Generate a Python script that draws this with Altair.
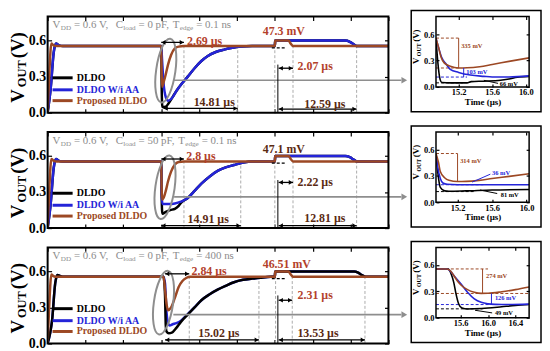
import altair as alt
import pandas as pd

FONT = "Liberation Serif"
BLACK = "#000000"
BLUE = "#2424d8"
BROWN = "#9c4824"
RED_TXT = "#b3412b"
DARK_TXT = "#5a2a12"
GRAY_TXT = "#8c8c8c"
GRAY_LINE = "#8e8e8e"
DASH_GRAY = "#ababab"

W, H = 344, 97
IW, IH = 94, 71
YDOM = [0, 0.8]
MAIN_DOM = [0, 45]
MAIN_TICKS = [0, 5, 10, 15, 20, 25, 30, 35, 40, 45]
Y_TICKS = [0, 0.3, 0.6]

# ---------------- data: panel 1 (C_load = 0 pF, T_edge = 0.1 ns) ----------------
P1_BLACK_T = [0, 0.4, 0.8, 1.1, 1.5, 2.0, 15.0, 15.06, 15.15, 15.6, 16.0, 16.5, 17.0, 17.7, 18.5, 19.4, 20.3, 21.1, 22.2, 23.3, 24.4, 25.5, 27.0, 30.0, 30.05, 39.3, 39.9, 40.4, 40.8, 45]
P1_BLACK_V = [0, 0.2, 0.5, 0.575, 0.56, 0.555, 0.555, 0.2, 0.046, 0.05, 0.08, 0.13, 0.18, 0.24, 0.3, 0.37, 0.43, 0.47, 0.505, 0.525, 0.54, 0.55, 0.555, 0.555, 0.6, 0.6, 0.59, 0.57, 0.555, 0.555]
P1_BLUE_T = [0, 0.4, 0.8, 1.1, 1.5, 2.0, 15.0, 15.1, 15.3, 15.6, 15.9, 16.4, 17.0, 17.7, 18.5, 19.4, 20.3, 21.1, 22.2, 23.3, 24.4, 25.5, 27.0, 30.0, 30.05, 39.3, 39.9, 40.4, 40.8, 45]
P1_BLUE_V = [0, 0.2, 0.5, 0.575, 0.56, 0.555, 0.555, 0.45, 0.25, 0.13, 0.1, 0.12, 0.18, 0.24, 0.3, 0.37, 0.43, 0.47, 0.505, 0.525, 0.54, 0.55, 0.555, 0.555, 0.6, 0.6, 0.59, 0.57, 0.555, 0.555]
P1_BROWN_T = [0, 0.2, 0.5, 0.8, 1.2, 15.0, 15.05, 15.12, 15.3, 15.6, 15.9, 16.3, 16.8, 17.3, 18.0, 30.0, 30.05, 31.8, 32.1, 32.4, 45]
P1_BROWN_V = [0, 0.3, 0.575, 0.56, 0.555, 0.555, 0.35, 0.215, 0.25, 0.32, 0.4, 0.48, 0.535, 0.55, 0.555, 0.555, 0.6, 0.6, 0.575, 0.555, 0.555]
P1_VLINES = [18.0, 25.1, 30.0, 32.4, 40.8]
P1_ARROWS = [(15.0, 18.0, 0.585), (15.3, 25.1, 0.035), (30.5, 32.4, 0.37), (30.5, 40.8, 0.03)]
P1_LABELS = [("2.69 µs", 18.4, 0.6, "left", "red"), ("14.81 µs", 22.0, 0.085, "center", "dark"),
             ("47.3 mV", 28.4, 0.68, "left", "red"), ("2.07 µs", 33.0, 0.385, "left", "red"),
             ("12.59 µs", 36.6, 0.075, "center", "dark")]
P1_HEADER = [("V", False, 0), ("DD", True, 0.3), ("= 0.6 V,", False, 3), ("C", False, 6), ("load", True, 0.3),
             ("= 0 pF,", False, 3), ("T", False, 3), ("edge", True, 0.3), ("= 0.1 ns", False, 3)]
P1_GRAY = (16.6, 0.27)
P1_ELLIPSE = (15.6, 0.35)

# ---------------- data: panel 2 (C_load = 50 pF) ----------------
P2_BLACK_T = [0, 0.4, 0.8, 1.1, 1.5, 2.0, 15.0, 15.06, 15.15, 15.6, 16.2, 16.8, 17.3, 17.6, 18.5, 19.4, 20.3, 21.4, 22.5, 23.5, 24.6, 25.8, 27.0, 30.0, 30.05, 39.3, 39.9, 40.4, 40.8, 45]
P2_BLACK_V = [0, 0.2, 0.5, 0.575, 0.56, 0.555, 0.555, 0.25, 0.12, 0.135, 0.15, 0.16, 0.185, 0.21, 0.25, 0.31, 0.37, 0.43, 0.478, 0.505, 0.525, 0.545, 0.555, 0.555, 0.6, 0.6, 0.59, 0.57, 0.555, 0.555]
P2_BLUE_T = [0, 0.4, 0.8, 1.1, 1.5, 2.0, 15.0, 15.06, 15.15, 16.0, 16.8, 17.6, 18.5, 19.4, 20.3, 21.4, 22.5, 23.5, 24.6, 25.8, 27.0, 30.0, 30.05, 39.3, 39.9, 40.4, 40.8, 45]
P2_BLUE_V = [0, 0.2, 0.5, 0.575, 0.56, 0.555, 0.555, 0.3, 0.2, 0.2, 0.205, 0.22, 0.25, 0.31, 0.37, 0.43, 0.478, 0.505, 0.525, 0.545, 0.555, 0.555, 0.6, 0.6, 0.59, 0.57, 0.555, 0.555]
P2_BROWN_T = [0, 0.2, 0.5, 0.8, 1.2, 15.0, 15.05, 15.12, 15.3, 15.6, 15.9, 16.3, 16.8, 17.3, 18.0, 30.0, 30.05, 31.8, 32.1, 32.4, 45]
P2_BROWN_V = [0, 0.3, 0.575, 0.56, 0.555, 0.555, 0.35, 0.236, 0.25, 0.31, 0.39, 0.47, 0.53, 0.55, 0.555, 0.555, 0.6, 0.6, 0.575, 0.555, 0.555]
P2_VLINES = [18.0, 25.5, 30.0, 32.4, 40.8]
P2_ARROWS = [(15.0, 18.0, 0.575), (15.0, 25.5, 0.02), (30.5, 32.4, 0.38), (30.5, 40.8, 0.02)]
P2_LABELS = [("2.8 µs", 18.3, 0.6, "left", "red"), ("14.91 µs", 21.2, 0.075, "center", "dark"),
             ("47.1 mV", 28.4, 0.66, "left", "dark"), ("2.22 µs", 33.0, 0.38, "left", "dark"),
             ("12.81 µs", 36.6, 0.08, "center", "dark")]
P2_HEADER = [("V", False, 0), ("DD", True, 0.3), ("= 0.6 V,", False, 3), ("C", False, 6), ("load", True, 0.3),
             ("= 50 pF,", False, 3), ("T", False, 3), ("edge", True, 0.3), ("= 0.1 ns", False, 3)]
P2_GRAY = (16.7, 0.26)
P2_ELLIPSE = (15.5, 0.34)

# ---------------- data: panel 3 (T_edge = 400 ns) ----------------
P3_BLUE_T = [0, 0.6, 1.0, 1.3, 1.7, 2.2, 15.3, 15.5, 15.7, 15.9, 16.1, 16.5, 17.0, 17.6, 18.5, 19.4, 20.3, 21.4, 22.5, 23.5, 24.6, 25.8, 27.0, 28.1, 29.5, 30.0, 30.05, 40.5, 41.0, 41.5, 42.0, 45]
P3_BLUE_V = [0, 0.2, 0.5, 0.57, 0.56, 0.555, 0.555, 0.5, 0.26, 0.17, 0.15, 0.16, 0.17, 0.19, 0.245, 0.3, 0.36, 0.41, 0.45, 0.48, 0.51, 0.53, 0.54, 0.548, 0.555, 0.555, 0.6, 0.6, 0.59, 0.57, 0.556, 0.555]
P3_BLACK_T = [0, 0.6, 1.0, 1.3, 1.7, 2.2, 15.3, 15.5, 15.6, 15.7, 16.0, 16.4, 17.0, 17.6, 18.5, 19.4, 20.3, 21.4, 22.5, 23.5, 24.6, 25.8, 27.0, 28.1, 29.5, 30.0, 30.05, 40.5, 41.0, 41.5, 42.0, 45]
P3_BLACK_V = [0, 0.2, 0.5, 0.57, 0.56, 0.555, 0.555, 0.4, 0.15, 0.1, 0.085, 0.09, 0.13, 0.18, 0.24, 0.3, 0.36, 0.41, 0.45, 0.48, 0.51, 0.53, 0.54, 0.548, 0.555, 0.555, 0.6, 0.6, 0.59, 0.57, 0.556, 0.555]
P3_BROWN_T = [0, 0.2, 0.5, 0.8, 1.2, 15.3, 15.5, 15.7, 15.9, 16.3, 16.8, 17.3, 17.8, 18.3, 18.8, 30.0, 30.05, 31.8, 32.1, 32.4, 45]
P3_BROWN_V = [0, 0.3, 0.575, 0.56, 0.555, 0.555, 0.45, 0.33, 0.276, 0.3, 0.38, 0.47, 0.52, 0.545, 0.555, 0.555, 0.6, 0.6, 0.575, 0.555, 0.555]
P3_VLINES = [18.7, 27.9, 30.1, 32.3, 41.9]
P3_ARROWS = [(15.5, 18.7, 0.58), (15.5, 27.9, 0.03), (30.5, 32.3, 0.36), (30.5, 41.9, 0.03)]
P3_LABELS = [("2.84 µs", 19.0, 0.6, "left", "red"), ("15.02 µs", 22.6, 0.09, "center", "dark"),
             ("46.51 mV", 28.4, 0.66, "left", "red"), ("2.31 µs", 33.0, 0.4, "left", "red"),
             ("13.53 µs", 35.7, 0.09, "center", "dark")]
P3_HEADER = [("V", False, 0), ("DD", True, 0.3), ("= 0.6 V,", False, 3), ("C", False, 6), ("load", True, 0.3),
             ("= 0 pF,", False, 3), ("T", False, 3), ("edge", True, 0.3), ("= 400 ns", False, 3)]
P3_GRAY = (16.6, 0.24)
P3_ELLIPSE = (15.3, 0.34)

LEGEND_NAMES = ["DLDO", "DLDO W/i AA", "Proposed DLDO"]
LEGEND_V = [0.29, 0.19, 0.1]

# ---------------- data: insets ----------------
I1_DOM = [14.93, 16.04]
I1_TICKS = [15.2, 15.6, 16.0]
I1_BROWN_T = [14.93, 14.96, 14.99, 15.03, 15.1, 15.2, 15.3, 15.45, 15.6, 15.8, 16.04]
I1_BROWN_V = [0.555, 0.45, 0.34, 0.27, 0.235, 0.215, 0.217, 0.23, 0.255, 0.29, 0.33]
I1_BLUE_T = [14.93, 14.96, 15.0, 15.05, 15.1, 15.2, 15.34, 15.5, 15.6, 15.8, 16.04]
I1_BLUE_V = [0.555, 0.45, 0.33, 0.26, 0.2, 0.165, 0.135, 0.12, 0.113, 0.113, 0.125]
I1_BLACK_T = [14.93, 14.95, 14.98, 15.0, 15.1, 15.3, 15.35, 15.5, 15.7, 15.8, 15.9, 16.04]
I1_BLACK_V = [0.555, 0.3, 0.08, 0.05, 0.046, 0.046, 0.06, 0.065, 0.075, 0.09, 0.11, 0.12]
I1_DASHED = [(14.93, 15.2, 0.555, "brown"), (14.93, 15.2, 0.215, "brown"), (14.93, 15.3, 0.112, "blue"), (14.93, 15.25, 0.046, "black")]
I1_SOLID = [(15.2, 0.555, 15.2, 0.215, "brown"), (15.26, 0.215, 15.26, 0.112, "blue"), (15.5, 0.075, 15.67, 0.04, "black")]
I1_LABELS = [("335 mV", 15.23, 0.47, "brown"), ("103 mV", 15.29, 0.17, "blue"), ("66 mV", 15.69, 0.035, "black")]

I2_DOM = [14.95, 16.03]
I2_TICKS = [15.2, 15.6, 16.0]
I2_BROWN_T = [14.95, 14.98, 15.0, 15.05, 15.1, 15.2, 15.3, 15.45, 15.6, 15.8, 16.03]
I2_BROWN_V = [0.555, 0.45, 0.35, 0.28, 0.25, 0.236, 0.238, 0.25, 0.27, 0.295, 0.325]
I2_BLUE_T = [14.95, 14.97, 15.0, 15.03, 15.08, 15.2, 15.5, 16.03]
I2_BLUE_V = [0.555, 0.4, 0.27, 0.22, 0.205, 0.2, 0.2, 0.2]
I2_BLACK_T = [14.95, 14.97, 15.0, 15.05, 15.1, 15.3, 15.6, 16.03]
I2_BLACK_V = [0.555, 0.35, 0.17, 0.13, 0.125, 0.13, 0.14, 0.145]
I2_DASHED = [(14.95, 15.2, 0.555, "brown"), (14.95, 15.5, 0.2, "blue"), (14.95, 15.4, 0.122, "black")]
I2_SOLID = [(15.2, 0.555, 15.2, 0.236, "brown"), (15.37, 0.23, 15.58, 0.32, "blue"), (15.46, 0.14, 15.66, 0.1, "black")]
I2_LABELS = [("314 mV", 15.23, 0.47, "brown"), ("36 mV", 15.6, 0.335, "blue"), ("81 mV", 15.7, 0.08, "black")]

I3_DOM = [15.24, 16.6]
I3_TICKS = [15.6, 16.0, 16.4]
I3_BROWN_T = [15.24, 15.4, 15.45, 15.5, 15.55, 15.6, 15.7, 15.8, 15.9, 16.0, 16.2, 16.4, 16.6]
I3_BROWN_V = [0.555, 0.555, 0.535, 0.48, 0.42, 0.375, 0.32, 0.29, 0.277, 0.278, 0.295, 0.32, 0.35]
I3_BLUE_T = [15.24, 15.4, 15.45, 15.5, 15.6, 15.7, 15.8, 15.9, 16.0, 16.1, 16.3, 16.6]
I3_BLUE_V = [0.555, 0.555, 0.53, 0.48, 0.39, 0.29, 0.215, 0.175, 0.158, 0.152, 0.15, 0.155]
I3_BLACK_T = [15.24, 15.42, 15.46, 15.5, 15.53, 15.57, 15.62, 15.7, 15.8, 16.0, 16.2, 16.4, 16.6]
I3_BLACK_V = [0.555, 0.555, 0.5, 0.4, 0.28, 0.16, 0.11, 0.1, 0.102, 0.11, 0.125, 0.14, 0.15]
I3_DASHED = [(15.24, 16.0, 0.555, "brown"), (15.24, 16.6, 0.276, "brown"), (15.24, 16.6, 0.15, "blue"), (15.24, 15.92, 0.101, "black")]
I3_SOLID = [(15.92, 0.555, 15.92, 0.276, "brown"), (16.05, 0.276, 16.05, 0.15, "blue"), (15.81, 0.085, 16.06, 0.055, "black")]
I3_LABELS = [("274 mV", 15.97, 0.47, "brown"), ("126 mV", 16.1, 0.22, "blue"), ("49 mV", 16.1, 0.05, "black")]

COLORS = {"black": BLACK, "blue": BLUE, "brown": BROWN, "red": RED_TXT, "dark": DARK_TXT}

# Times (Liberation Serif) advance widths per 1000 em, used only to lay out sub-scripted labels
TIMES_R = {"V": 722, "D": 722, " ": 250, "=": 564, ".": 250, ",": 250, "C": 667, "l": 278, "o": 500,
           "a": 444, "d": 500, "p": 500, "F": 556, "T": 611, "e": 444, "g": 500, "n": 500, "s": 389}
TIMES_B = {"V": 722, "O": 778, "U": 722, "T": 667, "(": 333, ")": 333}


def tw(s, size, table):
    return sum(table.get(c, 500) for c in s) * size / 1000.0


def xq(dom):
    return alt.X("t:Q", scale=alt.Scale(domain=dom, nice=False, zero=False), axis=None)


def yq():
    return alt.Y("v:Q", scale=alt.Scale(domain=YDOM, nice=False, zero=False), axis=None)


def curve(t, v, color, width, dom):
    return alt.Chart(pd.DataFrame({"t": t, "v": v})).mark_line(
        color=color, strokeWidth=width, interpolate="monotone", strokeJoin="round", clip=True
    ).encode(x=xq(dom), y=yq())


def seg(t1, v1, t2, v2, color, width, dom, dash=None):
    kw = dict(color=color, strokeWidth=width)
    if dash is not None:
        kw["strokeDash"] = dash
    d = pd.DataFrame({"t": [t1], "v": [v1], "t2": [t2], "v2": [v2]})
    return alt.Chart(d).mark_rule(**kw).encode(x=xq(dom), y=yq(), x2=alt.X2("t2:Q"), y2=alt.Y2("v2:Q"))


def head(t, v, shape, color, size, dom):
    d = pd.DataFrame({"t": [t], "v": [v]})
    return alt.Chart(d).mark_point(shape=shape, filled=True, size=size, color=color, opacity=1,
                                   strokeWidth=0).encode(x=xq(dom), y=yq())


def dtext(t, v, s, color, size, dom, align="left", weight="bold"):
    d = pd.DataFrame({"t": [t], "v": [v], "s": [s]})
    return alt.Chart(d).mark_text(font=FONT, fontSize=size, fontWeight=weight, color=color,
                                  align=align, baseline="middle").encode(x=xq(dom), y=yq(), text="s:N")


def ptext(px, py, s, size, color, weight="bold", angle=0, align="left"):
    kw = dict(font=FONT, fontSize=size, fontWeight=weight, color=color, align=align, baseline="middle")
    if angle:
        kw["angle"] = angle
    return alt.Chart(pd.DataFrame({"s": [s]})).mark_text(**kw).encode(
        x=alt.value(px), y=alt.value(py), text="s:N")


def header_layers(parts, x0, y0, big=11, small=7.2):
    out, x = [], x0
    for s, sub, gap in parts:
        x += gap
        size = small if sub else big
        out.append(ptext(x, y0 + (3 if sub else 0), s, size, GRAY_TXT, weight="normal"))
        x += tw(s, size, TIMES_R)
    return out


def ytitle_layers(x0, ybot, big, small, gap, sub_dx):
    out, y = [], ybot
    for s, sub in [("V", False), ("OUT", True), ("(V)", False)]:
        size = small if sub else big
        out.append(ptext(x0 + (sub_dx if sub else 0), y, s, size, BLACK, angle=270))
        y -= tw(s, size, TIMES_B) + gap
    return out


def rect(x1, x2, y1, y2, sw, color="black"):
    return alt.Chart(pd.DataFrame({"a": [0]})).mark_rect(
        color="white", fillOpacity=0, stroke=color, strokeWidth=sw
    ).encode(x=alt.value(x1), x2=alt.value(x2), y=alt.value(y1), y2=alt.value(y2))


def axes_layers(dom, xticks, tick, ylab_size, xlab, xlab_size=9, xtitle=None):
    d = pd.DataFrame({"t": [(dom[0] + dom[1]) / 2], "v": [0.4]})
    xs = alt.Scale(domain=dom, nice=False, zero=False)
    ys = alt.Scale(domain=YDOM, nice=False, zero=False)
    common = dict(domain=False, grid=False, ticks=True, tickSize=tick, offset=-tick,
                  tickColor="black", tickWidth=1.2)
    xb = dict(orient="bottom", values=xticks, labels=xlab, **common)
    if xlab:
        xb.update(format=".1f", labelFont=FONT, labelFontSize=xlab_size, labelFontWeight="bold",
                  labelColor="black", labelPadding=1)
    if xtitle:
        xb.update(title=xtitle, titleFont=FONT, titleFontSize=9, titleFontWeight="bold",
                  titleColor="black", titlePadding=1)
    else:
        xb.update(title=None)
    a1 = alt.Chart(d).mark_point(opacity=0, size=1).encode(
        x=alt.X("t:Q", scale=xs, axis=alt.Axis(**xb)),
        y=alt.Y("v:Q", scale=ys, axis=alt.Axis(orient="left", values=Y_TICKS, format=".1f", labelFont=FONT,
                                               labelFontSize=ylab_size, labelFontWeight="bold",
                                               labelColor="black", labelPadding=2, title=None, **common)))
    a2 = alt.Chart(d).mark_point(opacity=0, size=1).encode(
        x=alt.X("t:Q", scale=xs, axis=alt.Axis(orient="top", values=xticks, labels=False, title=None, **common)),
        y=alt.Y("v:Q", scale=ys, axis=alt.Axis(orient="right", values=Y_TICKS, labels=False, title=None, **common)))
    return [a1, a2]


def main_panel(series, vlines, arrows, labels, header, gray, ell):
    dom = MAIN_DOM
    L = axes_layers(dom, MAIN_TICKS, 4, 14, False)
    # spacer so that the inset box can sit slightly above the frame top
    L.append(alt.Chart(pd.DataFrame({"a": [0]})).mark_rule(color="white", strokeWidth=0.5).encode(
        x=alt.value(0), x2=alt.value(4), y=alt.value(-2)))
    for t in vlines:
        L.append(seg(t, 0.0, t, 0.555, DASH_GRAY, 1, dom, dash=[3, 2]))
    for t, v, c in series:
        L.append(curve(t, v, c, 2.5, dom))
    # ellipse and pointer to the inset
    L.append(alt.Chart(pd.DataFrame({"t": [ell[0]], "v": [ell[1]]})).mark_point(
        shape="M 0 -1 A 0.3 1 0 1 1 0 1 A 0.3 1 0 1 1 0 -1 Z", size=4200, filled=False,
        color=GRAY_LINE, strokeWidth=2, opacity=1, angle=8).encode(x=xq(dom), y=yq()))
    gd = pd.DataFrame({"t": [gray[0]], "v": [gray[1]]})
    L.append(alt.Chart(gd).mark_rule(color=GRAY_LINE, strokeWidth=1.6).encode(
        x=xq(dom), x2=alt.value(W + 13), y=yq()))
    L.append(alt.Chart(gd).mark_point(shape="triangle-right", filled=True, size=45, color=GRAY_LINE,
                                      opacity=1, strokeWidth=0).encode(x=alt.value(W + 16), y=yq()))
    # double arrows
    for t1, t2, v in arrows:
        L.append(seg(t1, v, t2, v, BLACK, 1.3, dom))
        L.append(head(t1 + 0.3, v, "triangle-left", BLACK, 22, dom))
        L.append(head(t2 - 0.3, v, "triangle-right", BLACK, 22, dom))
    L.append(seg(30.4, 0.0, 30.4, 0.4, BLACK, 1, dom))
    L.append(seg(29.6, 0.54, 31.3, 0.54, BLACK, 1.2, dom, dash=[3, 2]))
    for s, t, v, al, c in labels:
        L.append(dtext(t, v, s, COLORS[c], 12, dom, align=al))
    # legend
    for (name, c), v in zip([(LEGEND_NAMES[0], BLACK), (LEGEND_NAMES[1], BLUE), (LEGEND_NAMES[2], BROWN)], LEGEND_V):
        L.append(seg(0.65, v, 3.3, v, c, 3, dom))
        L.append(dtext(3.85, v, name, c, 10, dom))
    L += header_layers(header, 5, 9)
    L += ytitle_layers(-30, 87, 19, 12.5, 2, 4)
    L.append(rect(0, W, 0, H, 2))
    return alt.layer(*L).resolve_axis(x="independent", y="independent").properties(width=W, height=H)


def inset_panel(dom, ticks, series, dashed, solid, labels):
    L = axes_layers(dom, ticks, 3, 8.5, True, 8.5, "Time (µs)")
    for t1, t2, v, c in dashed:
        L.append(seg(t1, v, t2, v, COLORS[c], 1, dom, dash=[3, 2]))
    for t, v, c in series:
        L.append(curve(t, v, c, 1.6, dom))
    for t1, v1, t2, v2, c in solid:
        L.append(seg(t1, v1, t2, v2, COLORS[c], 1, dom))
    for s, t, v, c in labels:
        L.append(dtext(t, v, s, COLORS[c], 6.5, dom))
    L += ytitle_layers(-20, 48, 9, 6, 1.5, 2.5)
    L.append(rect(0, IW, 0, IH, 1.5))
    L.append(rect(-25, IW + 12, -6, IH + 25, 1.5))
    return alt.layer(*L).resolve_axis(x="independent", y="independent").properties(width=IW, height=IH)


m1 = main_panel([(P1_BLACK_T, P1_BLACK_V, BLACK), (P1_BLUE_T, P1_BLUE_V, BLUE), (P1_BROWN_T, P1_BROWN_V, BROWN)],
                P1_VLINES, P1_ARROWS, P1_LABELS, P1_HEADER, P1_GRAY, P1_ELLIPSE)
m2 = main_panel([(P2_BLACK_T, P2_BLACK_V, BLACK), (P2_BLUE_T, P2_BLUE_V, BLUE), (P2_BROWN_T, P2_BROWN_V, BROWN)],
                P2_VLINES, P2_ARROWS, P2_LABELS, P2_HEADER, P2_GRAY, P2_ELLIPSE)
m3 = main_panel([(P3_BLUE_T, P3_BLUE_V, BLUE), (P3_BLACK_T, P3_BLACK_V, BLACK), (P3_BROWN_T, P3_BROWN_V, BROWN)],
                P3_VLINES, P3_ARROWS, P3_LABELS, P3_HEADER, P3_GRAY, P3_ELLIPSE)

i1 = inset_panel(I1_DOM, I1_TICKS, [(I1_BLACK_T, I1_BLACK_V, BLACK), (I1_BLUE_T, I1_BLUE_V, BLUE), (I1_BROWN_T, I1_BROWN_V, BROWN)],
                 I1_DASHED, I1_SOLID, I1_LABELS)
i2 = inset_panel(I2_DOM, I2_TICKS, [(I2_BLACK_T, I2_BLACK_V, BLACK), (I2_BLUE_T, I2_BLUE_V, BLUE), (I2_BROWN_T, I2_BROWN_V, BROWN)],
                 I2_DASHED, I2_SOLID, I2_LABELS)
i3 = inset_panel(I3_DOM, I3_TICKS, [(I3_BLACK_T, I3_BLACK_V, BLACK), (I3_BLUE_T, I3_BLUE_V, BLUE), (I3_BROWN_T, I3_BROWN_V, BROWN)],
                 I3_DASHED, I3_SOLID, I3_LABELS)

rows = [alt.hconcat(m, i, spacing=3) for m, i in [(m1, i1), (m2, i2), (m3, i3)]]
chart = alt.vconcat(*rows, spacing=5.5).configure_view(strokeWidth=0).properties(
    padding={"left": 0, "top": 0, "right": 0, "bottom": 6})

chart.save("out.html", embed_options={"renderer": "svg", "actions": False})
